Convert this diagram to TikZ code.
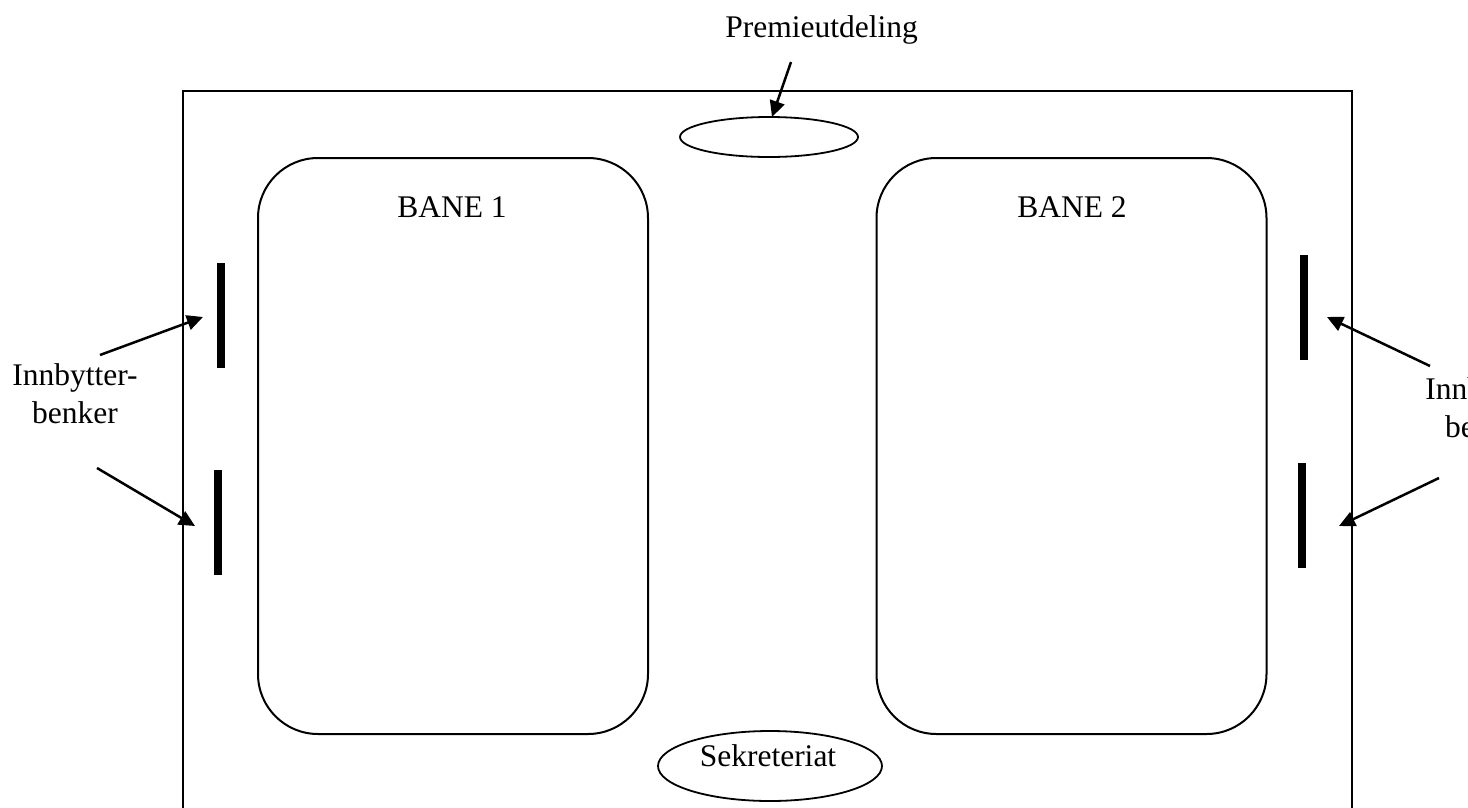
\documentclass[tikz,border=0pt]{standalone}
\usepackage{fontspec}
\setmainfont{Liberation Serif}
\usetikzlibrary{arrows.meta,shapes.geometric}
\tikzset{
  outerline/.style={line width=1.3pt},
  court/.style={draw, line width=2pt, rounded corners=60pt, minimum width=390pt, minimum height=576pt, inner sep=0pt},
  oval/.style={draw, ellipse, line width=1.8pt, inner sep=0pt},
  bench/.style={fill=black, draw=none, minimum width=8pt, minimum height=105pt, inner sep=0pt},
  pointer/.style={line width=2.5pt, -{Triangle[length=16pt,width=15pt]}},
  lbl/.style={anchor=base, inner sep=0pt}
}
\begin{document}
\begin{tikzpicture}[x=1pt, y=-1pt, font=\fontsize{31.5}{38}\selectfont]
\useasboundingbox (0,0) rectangle (1468,807);
% outer field
\draw[outerline] (183,840) -- (183,91) -- (1352,91) -- (1352,840);
% courts
\node[court] (bane1) at (453,446) {};
\node[court] (bane2) at (1071.5,446) {};
\node[lbl] (bane1t) at (452,217) {BANE 1};
\node[lbl] (bane2t) at (1072,217) {BANE 2};
% prize ellipse
\node[oval, minimum width=178pt, minimum height=40pt] (prem) at (769,137) {};
\node[lbl] (premt) at (821.5,37) {Premieutdeling};
\coordinate (premtail) at (791,62);
\coordinate (premtip) at (772,117);
\draw[pointer] (premtail) -- (premtip);
% secretariat
\node[oval, minimum width=224pt, minimum height=70pt] (sek) at (770,766) {};
\node[lbl] (sekt) at (768,766) {Sekreteriat};
% benches
\node[bench] (bl1) at (220.5,315.5) {};
\node[bench] (bl2) at (218,522.5) {};
\node[bench] (br1) at (1304,307.5) {};
\node[bench] (br2) at (1301.5,515) {};
% labels
\node[lbl] (ll1) at (75,385) {Innbytter-};
\node[lbl] (ll2) at (75,423) {benker};
\node[lbl] (rl1) at (1488,399) {Innbytter-};
\node[lbl] (rl2) at (1488,437) {benker};
% arrows
\coordinate (la1) at (100,355);
\coordinate (lt1) at (203,317);
\coordinate (la2) at (97,468);
\coordinate (lt2) at (195,526);
\coordinate (ra1) at (1430,366);
\coordinate (rt1) at (1327,317);
\coordinate (ra2) at (1439,478);
\coordinate (rt2) at (1339,526);
\draw[pointer] (la1) -- (lt1);
\draw[pointer] (la2) -- (lt2);
\draw[pointer] (ra1) -- (rt1);
\draw[pointer] (ra2) -- (rt2);
\end{tikzpicture}
\end{document}
